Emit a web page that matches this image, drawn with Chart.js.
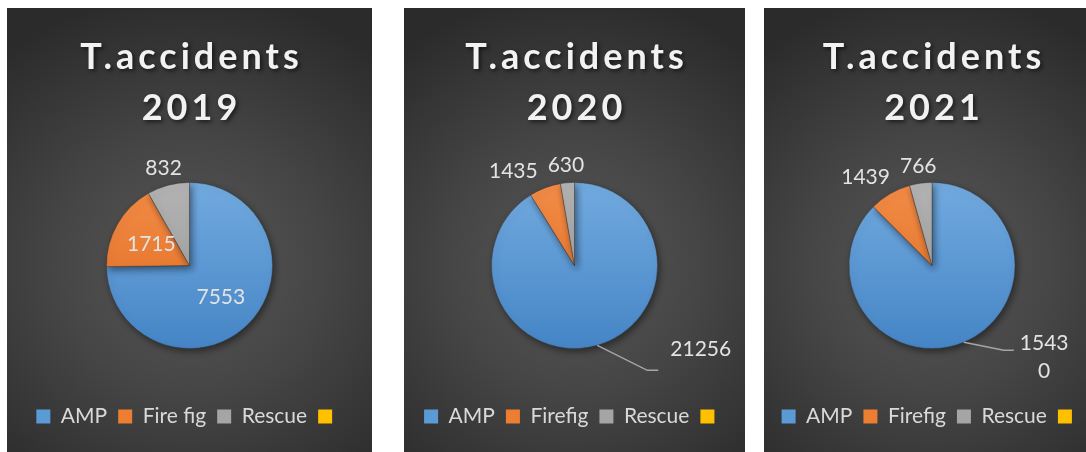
<!DOCTYPE html>
<html>
<head>
<meta charset="utf-8">
<script src="https://cdn.jsdelivr.net/npm/chart.js@4.4.0/dist/chart.umd.min.js"></script>
<style>
  html, body { margin: 0; padding: 0; background: #fff; width: 1086px; height: 452px; overflow: hidden; position: relative; }
  .panel {
    position: absolute; top: 8px; height: 444px;
    background: radial-gradient(ellipse 80% 62% at 50% 58%, #575757 0%, #464646 45%, #2b2b2b 100%);
  }
</style>
</head>
<body>
<div class="panel" style="left:7px;width:365px"><canvas id="chart-2019"></canvas></div>
<div class="panel" style="left:404px;width:341px"><canvas id="chart-2020"></canvas></div>
<div class="panel" style="left:764px;width:336px"><canvas id="chart-2021"></canvas></div>
<script>
// data
const labels2019 = ['AMP', 'Fire fig', 'Rescue', ''];
const labels2020 = ['AMP', 'Firefig', 'Rescue', ''];
const labels2021 = ['AMP', 'Firefig', 'Rescue', ''];
const values2019 = [7553, 1715, 832, 0];
const values2020 = [21256, 1435, 630, 0];
const values2021 = [15430, 1439, 766, 0];

// colours
const sliceColors = ['#5b9bd5', '#ed7d31', '#a5a5a5', '#ffc000'];
const sliceTops = ['#72aadf', '#f28c47', '#b3b3b3', '#ffcc1a'];
const sliceBottoms = ['#4585c6', '#df6a1e', '#969696', '#f2b400'];
const pieRadius = 83;

function sliceFill(context) {
  const i = context.dataIndex;
  const area = context.chart.chartArea;
  if (!area) return sliceColors[i];
  const cy = (area.top + area.bottom) / 2;
  const g = context.chart.ctx.createLinearGradient(0, cy - pieRadius, 0, cy + pieRadius);
  g.addColorStop(0, sliceTops[i]);
  g.addColorStop(1, sliceBottoms[i]);
  return g;
}

// title drawn by hand so it can have letter spacing and a shadow
const bigTitle = {
  id: 'bigTitle',
  afterDraw(chart, args, opts) {
    const ctx = chart.ctx;
    ctx.save();
    ctx.font = 'bold 36px Lato';
    ctx.letterSpacing = '4px';
    ctx.textAlign = 'center';
    ctx.textBaseline = 'alphabetic';
    ctx.fillStyle = '#f2f2f2';
    ctx.shadowColor = 'rgba(0,0,0,0.6)';
    ctx.shadowBlur = 4;
    ctx.shadowOffsetX = 2;
    ctx.shadowOffsetY = 2;
    opts.lines.forEach((line, k) => {
      ctx.fillText(line, chart.width / 2 + 2, 61 + k * 51);
    });
    ctx.restore();
  }
};

const pieShadow = {
  id: 'pieShadow',
  beforeDatasetsDraw(chart) {
    const ctx = chart.ctx;
    ctx.save();
    ctx.shadowColor = 'rgba(0,0,0,0.45)';
    ctx.shadowBlur = 7;
    ctx.shadowOffsetX = 2;
    ctx.shadowOffsetY = 3;
  },
  afterDatasetsDraw(chart) {
    chart.ctx.restore();
  }
};

// value labels: inside, outside end, or with a leader line
const sliceLabels = {
  id: 'sliceLabels',
  afterDatasetsDraw(chart, args, opts) {
    const ctx = chart.ctx;
    const meta = chart.getDatasetMeta(0);
    const values = chart.data.datasets[0].data;
    ctx.save();
    ctx.font = '21px Lato';
    const placed = [];
    meta.data.forEach((arc, i) => {
      const v = values[i];
      if (!v) return;
      const p = arc.getProps(['x', 'y', 'startAngle', 'endAngle', 'outerRadius'], true);
      const mid = (p.startAngle + p.endAngle) / 2;
      const cos = Math.cos(mid), sin = Math.sin(mid);
      const text = String(v);
      const w = ctx.measureText(text).width, h = 20;
      const mode = opts.modes[i];
      if (mode === 'inside') {
        const d = p.outerRadius * 0.53;
        placed.push({ lines: [text], cx: p.x + cos * d, cy: p.y + sin * d, w, h });
      } else if (mode === 'outside') {
        const d = Math.min(Math.abs((w / 2) / cos), Math.abs((h / 2) / sin));
        const dist = p.outerRadius + 8 + d;
        placed.push({ lines: [text], cx: p.x + cos * dist, cy: p.y + sin * dist, w, h, outside: true });
      } else {
        const c = opts.callout;
        const sx = p.x + cos * p.outerRadius, sy = p.y + sin * p.outerRadius;
        const ex = sx + c.dx, ey = sy + c.dy;
        ctx.strokeStyle = '#a6a6a6';
        ctx.lineWidth = 1.5;
        ctx.beginPath();
        ctx.moveTo(sx, sy);
        ctx.lineTo(ex, ey);
        ctx.lineTo(ex + c.len, ey);
        ctx.stroke();
        const lines = c.wrap ? [text.slice(0, c.wrap), text.slice(c.wrap)] : [text];
        ctx.fillStyle = opts.color;
        ctx.textAlign = 'left';
        ctx.textBaseline = 'alphabetic';
        lines.forEach((ln, k) => {
          const lw = ctx.measureText(lines[0]).width;
          const tw = ctx.measureText(ln).width;
          ctx.fillText(ln, ex + c.len + c.gap + (lw - tw) / 2, ey + c.textDy + k * 28);
        });
      }
    });
    // push crowded outside labels apart
    const outs = placed.filter(l => l.outside);
    for (let k = outs.length - 2; k >= 0; k--) {
      const a = outs[k], b = outs[k + 1];
      const overlapY = Math.abs(a.cy - b.cy) < (a.h + b.h) / 2;
      const overlapX = a.cx + a.w / 2 > b.cx - b.w / 2 - 10;
      if (overlapY && overlapX) a.cx = b.cx - b.w / 2 - 10 - a.w / 2;
    }
    ctx.fillStyle = opts.color;
    ctx.textAlign = 'center';
    ctx.textBaseline = 'alphabetic';
    placed.forEach(l => ctx.fillText(l.lines[0], l.cx, l.cy + 7.5));
    ctx.restore();
  }
};

function makeChart(id, year, labels, values, modes, callout) {
  return new Chart(document.getElementById(id), {
    type: 'pie',
    data: {
      labels: labels,
      datasets: [{
        data: values,
        backgroundColor: sliceFill,
        borderWidth: 0.5,
        borderColor: 'rgba(55,55,55,0.8)',
        radius: pieRadius
      }]
    },
    options: {
      responsive: true,
      maintainAspectRatio: false,
      animation: false,
      layout: { padding: { top: 128, bottom: 15 } },
      plugins: {
        title: { display: false },
        tooltip: { enabled: false },
        legend: {
          position: 'bottom',
          labels: {
            color: '#d9d9d9',
            font: { family: 'Lato', size: 21 },
            boxWidth: 14,
            boxHeight: 14,
            padding: 11,
            generateLabels(chart) {
              const items = Chart.overrides.doughnut.plugins.legend.labels.generateLabels(chart);
              return items.map((it, i) => Object.assign(it, {
                fillStyle: sliceColors[i], strokeStyle: sliceColors[i], lineWidth: 0
              }));
            }
          }
        },
        bigTitle: { lines: ['T.accidents', year] },
        sliceLabels: { modes: modes, callout: callout, color: '#e3e3e3' }
      }
    },
    plugins: [pieShadow, sliceLabels, bigTitle]
  });
}

makeChart('chart-2019', '2019', labels2019, values2019, ['inside', 'inside', 'outside']);
makeChart('chart-2020', '2020', labels2020, values2020, ['callout', 'outside', 'outside'],
  { dx: 50, dy: 25, len: 11, gap: 12, textDy: -14, wrap: 0 });
makeChart('chart-2021', '2021', labels2021, values2021, ['callout', 'outside', 'outside'],
  { dx: 40, dy: 8, len: 10, gap: 6, textDy: 0, wrap: 4 });
</script>
</body>
</html>
